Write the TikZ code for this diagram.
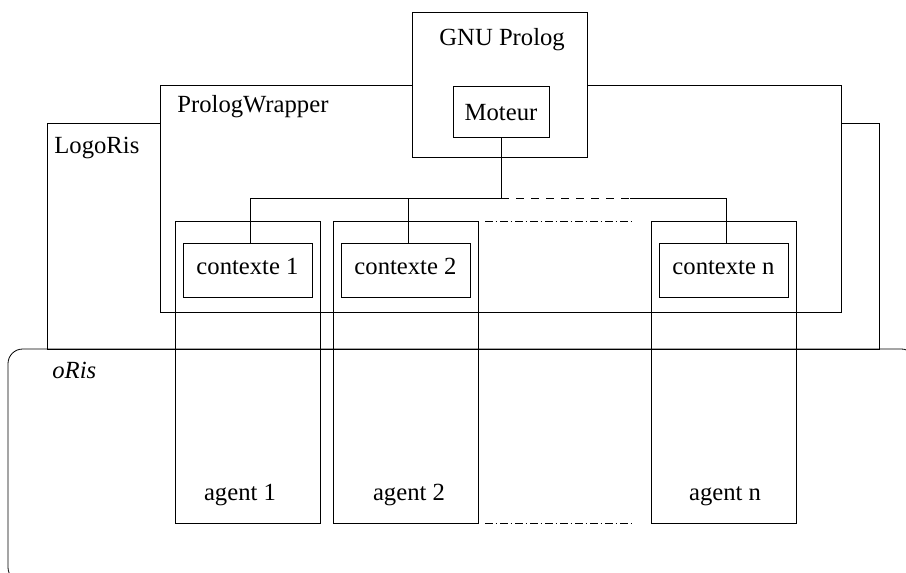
\documentclass[tikz,border=0pt]{standalone}
\usepackage{fontspec}
\setmainfont{Liberation Serif}
\usetikzlibrary{positioning}
\newdimen\px
\px=0.75pt
\tikzset{
  frame/.style args={#1/#2}{draw, rectangle, inner sep=0pt, minimum width=#1\px, minimum height=#2\px},
  lbl/.style={anchor=base west, inner sep=0pt},
}

\begin{document}
\begin{tikzpicture}[x=0.75pt, y=-0.75pt, font=\fontsize{18.5}{22}\selectfont, line width=0.6pt,
  agentbox/.style={frame=145/302},
  ctxbox/.style={frame=129/54, text height=8\px, text depth=0pt},
  dotted line/.style={dash pattern=on 7.5\px off 3\px on 1.5\px off 3\px}]
  \useasboundingbox (0,0) rectangle (906,572);
  % nested software layers
  \node[frame=832/226, fill=white] (logoris) at (463,236) {};
  \node[frame=681/227, fill=white] (wrapper) at (500.5,198.5) {};
  \node[frame=175/145, fill=white] (gnu) at (499.5,84.5) {};
  \node[frame=96/51, text height=17\px, text depth=0pt] (moteur) at (501,111.5) {Moteur};
  \node[frame=908/233, rounded corners=11pt] (oris) at (462,465.5) {};
  \node[lbl] (gnulbl) at (439,45) {GNU Prolog};
  \node[lbl] (wrapperlbl) at (177,112) {PrologWrapper};
  \node[lbl] (logorislbl) at (54,153) {LogoRis};
  \node[lbl, font=\fontsize{18.5}{22}\selectfont\itshape] (orislbl) at (52,378) {oRis};
  % agents and their contexts
  \node[agentbox] (agent1) at (247.5,372) {};
  \node[agentbox] (agent2) at (405.5,372) {};
  \node[agentbox] (agentn) at (724,372) {};
  \node[ctxbox] (ctx1) at (247.5,270) {contexte 1};
  \node[ctxbox] (ctx2) at (405.5,270) {contexte 2};
  \node[ctxbox] (ctxn) at (723.5,270) {contexte n};
  \node[anchor=base] (agent1lbl) at (240,500) {agent 1};
  \node[anchor=base] (agent2lbl) at (409,500) {agent 2};
  \node[anchor=base] (agentnlbl) at (725,500) {agent n};
  % links from the engine
  \coordinate (bus) at (moteur.south |- 0,198);
  \coordinate (busgap) at (630,198);
  \draw (moteur.south) -- (bus) -| ([xshift=3\px]ctx1.north);
  \draw ([xshift=3\px]ctx2.north) -- ([xshift=3\px]ctx2.north |- bus);
  \draw[dashed, dash pattern=on 7.5\px off 7.5\px] (bus) -- (busgap);
  \draw (busgap) -| ([xshift=3\px]ctxn.north);
  \coordinate (topgapA) at (485,221);
  \coordinate (topgapB) at (632,221);
  \coordinate (botgapA) at (485,523);
  \coordinate (botgapB) at (632,523);
  \draw[dotted line] (topgapA) -- (topgapB);
  \draw[dotted line] (botgapA) -- (botgapB);
\end{tikzpicture}
\end{document}
